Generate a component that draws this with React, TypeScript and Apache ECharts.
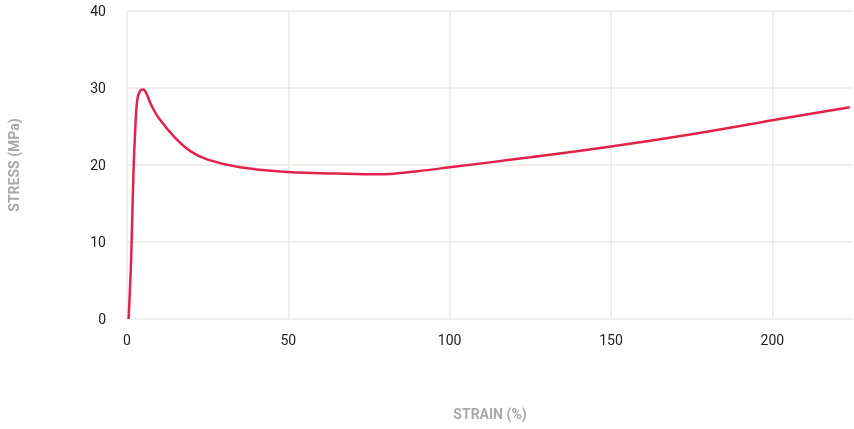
import React, { useEffect, useRef } from "react";
import * as echarts from "echarts";

const strain = [0.5, 1.3, 2.0, 2.6, 3.2, 4.0, 5.0, 6.0, 7.5, 10, 15, 20, 25, 35, 50, 65, 78, 90, 100, 125, 150, 175, 200, 224];
const stress = [0, 8, 19, 25, 28.5, 29.6, 29.8, 29.3, 27.8, 26, 23.5, 21.7, 20.7, 19.7, 19.1, 18.9, 18.8, 19.2, 19.7, 21.0, 22.4, 24.0, 25.8, 27.5];
const xTicks = [0, 50, 100, 150, 200];
const yTicks = [0, 10, 20, 30, 40];

export default function App() {
  const ref = useRef<HTMLDivElement>(null);
  useEffect(() => {
    if (!ref.current) return;
    const chart = echarts.init(ref.current, undefined, { renderer: "svg" });
    const data = strain.map((x, i) => [x, stress[i]]);
    chart.setOption({
      animation: false,
      grid: { left: 127, right: 1, top: 11, bottom: 110, containLabel: false, outerBoundsMode: "none" },
      xAxis: {
        type: "value",
        min: 0,
        max: 225,
        interval: 50,
        name: "STRAIN (%)",
        nameLocation: "middle",
        nameGap: 88,
        nameTextStyle: { color: "#a8a8a8", fontSize: 14, fontWeight: "bold", fontFamily: "Roboto" },
        axisLine: { show: false },
        axisTick: { show: false },
        axisLabel: {
          color: "#222",
          fontSize: 14,
          fontFamily: "Roboto",
          margin: 14,
          showMaxLabel: false,
          formatter: (v: number) => (xTicks.includes(v) ? String(v) : ""),
        },
        splitLine: { show: true, showMaxLine: false, lineStyle: { color: "#edeae4", width: 1.5 } },
      },
      yAxis: {
        type: "value",
        min: 0,
        max: 40,
        interval: 10,
        name: "STRESS (MPa)",
        nameLocation: "middle",
        nameGap: 106,
        nameTextStyle: { color: "#a8a8a8", fontSize: 14, fontWeight: "bold", fontFamily: "Roboto" },
        axisLine: { show: false },
        axisTick: { show: false },
        axisLabel: {
          color: "#222",
          fontSize: 14,
          fontFamily: "Roboto",
          margin: 21,
          formatter: (v: number) => (yTicks.includes(v) ? String(v) : ""),
        },
        splitLine: { show: true, lineStyle: { color: "#edeae4", width: 1.5 } },
      },
      series: [
        {
          type: "line",
          data,
          smooth: 0.4,
          showSymbol: false,
          lineStyle: { color: "#e3224a", width: 2.5 },
        },
      ],
    });
    return () => chart.dispose();
  }, []);
  return <div ref={ref} style={{ position: "fixed", left: 0, top: 0, width: 854, height: 429 }} />;
}
